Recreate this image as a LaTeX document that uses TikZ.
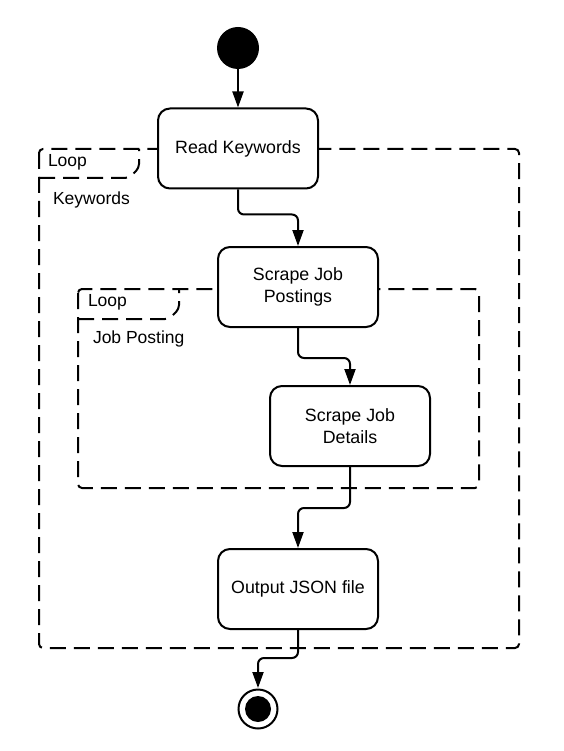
\documentclass[tikz,border=0pt]{standalone}
\usepackage{fontspec}
\setmainfont{Liberation Sans}
\usetikzlibrary{arrows.meta}
\begin{document}
\begin{tikzpicture}[x=1pt,y=-1pt,line width=2pt,
  activity/.style={draw,fill=white,rounded corners=12pt,minimum width=160pt,minimum height=80pt,align=center,font=\fontsize{17.8}{21.5}\selectfont},
  frame/.style={dash pattern=on 16pt off 8pt,rounded corners=4pt},
  flow/.style={-{Triangle[length=16pt,width=11pt]},rounded corners=6pt},
  lbl/.style={anchor=west,inner sep=0pt,font=\fontsize{17.5}{21}\selectfont}]
\useasboundingbox (0,0) rectangle (563,751);

% outer loop
\draw[frame] (39,149) rectangle (519,648);
\draw[frame] (39,178) -- (129,178) -- (139,168) -- (139,149);
\node[lbl] (loopa) at (47,162) {Loop};
\node[lbl] (keywords) at (52,200) {Keywords};

% inner loop
\draw[frame] (78,289) rectangle (479,488);
\draw[frame] (78,319) -- (169,319) -- (179,309) -- (179,289);
\node[lbl] (loopb) at (87,302) {Loop};
\node[lbl] (jobposting) at (92,339) {Job Posting};

% activities
\fill (238,48) circle (21) coordinate (start);
\node[activity] (readkw) at (238,148.5) {Read Keywords};
\node[activity] (scrapepost) at (298,287) {Scrape Job\\Postings};
\node[activity] (scrapedet) at (350,426) {Scrape Job\\Details};
\node[activity] (output) at (298,589) {Output JSON file};
\draw[line width=2pt] (258,709) circle (19.5);
\fill (258,709) circle (13) coordinate (stop);

% flows
\draw[flow] (238,69) -- (readkw.north);
\draw[flow] (readkw.south) -- ++(0,25) -| (scrapepost.north);
\draw[flow] (scrapepost.south) -- ++(0,30) -| (scrapedet.north);
\draw[flow] (scrapedet.south) -- ++(0,41) -| (output.north);
\draw[flow] (output.south) -- ++(0,28) -| (258,688);
\end{tikzpicture}
\end{document}
